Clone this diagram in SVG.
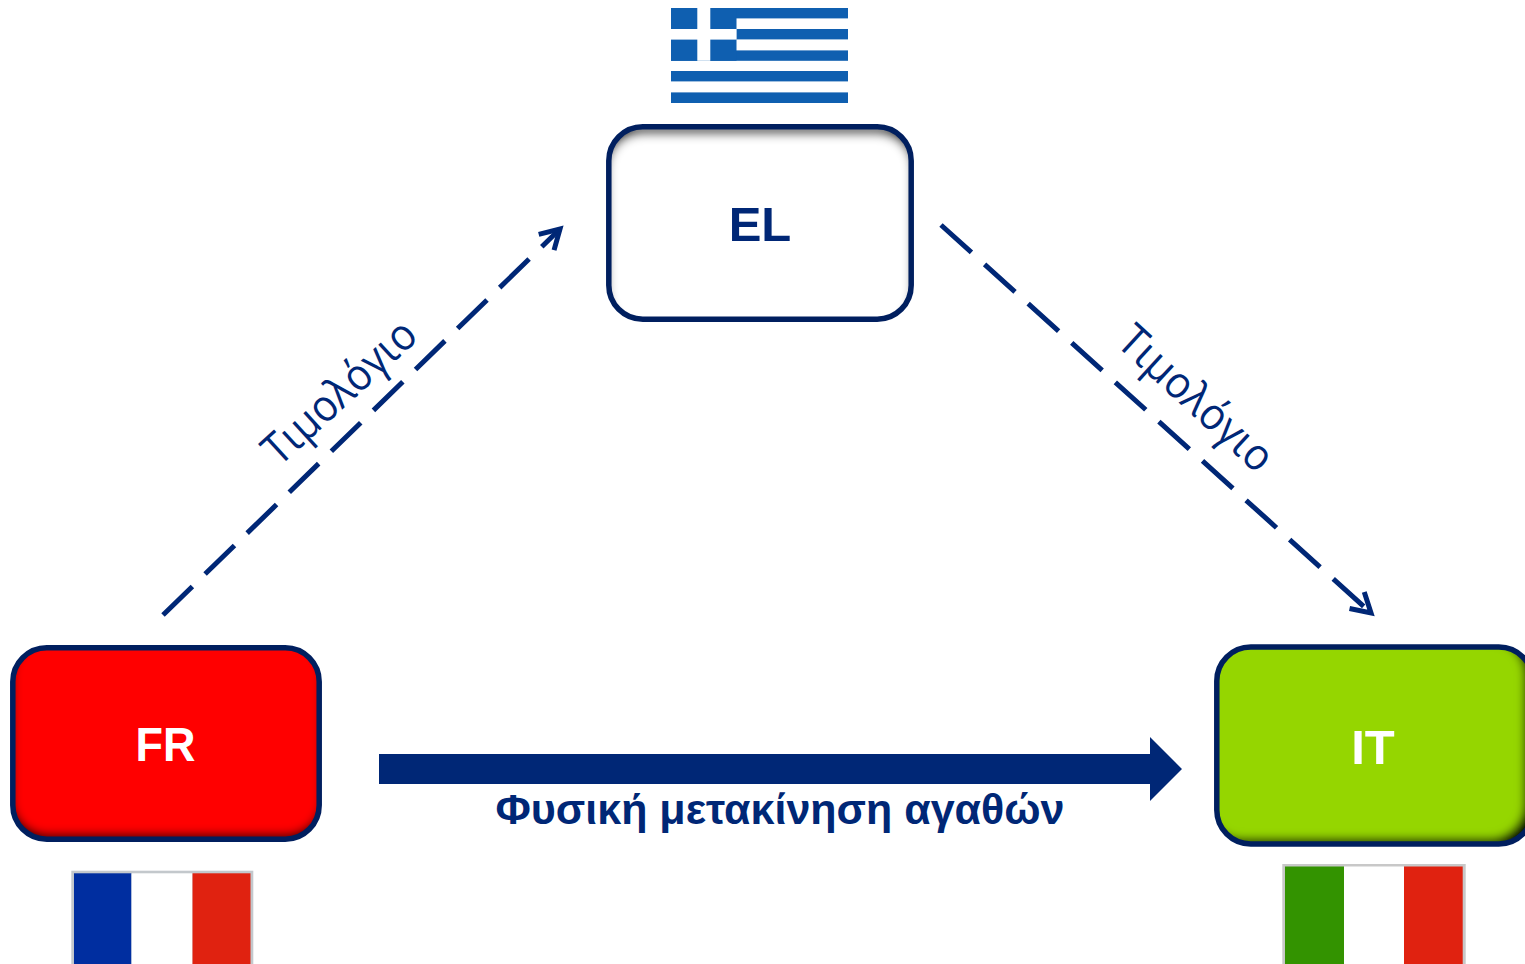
<svg xmlns="http://www.w3.org/2000/svg" width="1525" height="964" viewBox="0 0 1525 964">
<style>
.box{stroke:#001f5f;stroke-width:5.5;fill:none}
.code{font-family:"Liberation Sans",Arial,sans-serif;font-weight:700;font-size:49px;text-anchor:middle}
.lbl{font-family:"Open Sans","Noto Sans",sans-serif;font-size:44px;fill:#002776;text-anchor:middle}
.dash{stroke:#002776;stroke-width:5;fill:none;stroke-dasharray:41 17.7}
</style>
<defs>
<marker id="open" markerUnits="userSpaceOnUse" markerWidth="40" markerHeight="40" refX="22" refY="20" orient="auto">
<path d="M3,9 L22,20 L3,31" fill="none" stroke="#002776" stroke-width="5" stroke-miterlimit="10"/>
</marker>
<filter id="inTop" x="-5%" y="-5%" width="110%" height="110%">
<feFlood flood-color="#000" flood-opacity="1"/>
<feComposite in2="SourceAlpha" operator="out"/>
<feOffset dx="0" dy="8"/><feGaussianBlur stdDeviation="5"/>
<feComposite in2="SourceAlpha" operator="in" result="s"/>
<feMerge><feMergeNode in="SourceGraphic"/><feMergeNode in="s"/></feMerge>
</filter>
<filter id="inFr" x="-5%" y="-5%" width="110%" height="110%">
<feFlood flood-color="#000" flood-opacity="1"/>
<feComposite in2="SourceAlpha" operator="out"/>
<feOffset dx="1" dy="-6"/><feGaussianBlur stdDeviation="4.5"/>
<feComposite in2="SourceAlpha" operator="in" result="s"/>
<feMerge><feMergeNode in="SourceGraphic"/><feMergeNode in="s"/></feMerge>
</filter>
<filter id="inIt" x="-5%" y="-5%" width="110%" height="110%">
<feFlood flood-color="#000" flood-opacity="1"/>
<feComposite in2="SourceAlpha" operator="out"/>
<feOffset dx="-9" dy="-6"/><feGaussianBlur stdDeviation="4.5"/>
<feComposite in2="SourceAlpha" operator="in" result="s"/>
<feMerge><feMergeNode in="SourceGraphic"/><feMergeNode in="s"/></feMerge>
</filter>
</defs>
<rect width="1525" height="964" fill="#fff"/>
<g id="connectors">
<path class="dash" d="M163,615 L560,229" marker-end="url(#open)"/>
<path class="dash" d="M941,225 L1371,613" marker-end="url(#open)"/>
<path fill="#002776" d="M379,754 H1150 V737 L1182,769 L1150,801 V784 H379 Z"/>
</g>
<g id="node-el">
<rect x="608.8" y="126.8" width="302.4" height="192.4" rx="34" fill="#fff" filter="url(#inTop)"/>
<rect class="box" x="608.8" y="126.8" width="302.4" height="192.4" rx="34"/>
<text class="code" x="760" y="240.500" fill="#002776">EL</text>
</g>
<g id="node-fr">
<rect x="12.8" y="647.8" width="306.4" height="191.4" rx="34" fill="#ff0000" filter="url(#inFr)"/>
<rect class="box" x="12.8" y="647.8" width="306.4" height="191.4" rx="34"/>
<text class="code" x="165.500" y="761" fill="#fff" textLength="60" lengthAdjust="spacingAndGlyphs">FR</text>
</g>
<g id="node-it">
<rect x="1216.8" y="647" width="316" height="197" rx="34" fill="#95d600" filter="url(#inIt)"/>
<rect class="box" x="1216.8" y="647" width="316" height="197" rx="34"/>
<text class="code" x="1373" y="763.500" fill="#fff">IT</text>
</g>
<g id="flag-el">
<rect x="671" y="8" width="177" height="95" fill="#fff"/>
<g fill="#0f5fb0">
<rect x="671" y="8" width="177" height="10.4"/>
<rect x="736.5" y="29" width="111.5" height="10.4"/>
<rect x="671" y="50.4" width="177" height="10.4"/>
<rect x="671" y="71" width="177" height="10.4"/>
<rect x="671" y="92.4" width="177" height="10.6"/>
<rect x="671" y="8" width="65.5" height="52.8"/>
</g>
<rect x="697.3" y="8" width="13" height="52.8" fill="#fff"/>
<rect x="671" y="29" width="65.5" height="10.6" fill="#fff"/>
</g>
<g id="flag-fr">
<rect x="71.3" y="870.7" width="182" height="94" fill="#c3c8cc"/>
<rect x="74" y="873.3" width="57.5" height="91" fill="#002ea0"/>
<rect x="131.5" y="873.3" width="61" height="91" fill="#fff"/>
<rect x="192.5" y="873.3" width="58" height="91" fill="#e02210"/>
</g>
<g id="flag-it">
<rect x="1282.3" y="864" width="183.4" height="100" fill="#c8c8c8"/>
<rect x="1285" y="866.5" width="59" height="98" fill="#339300"/>
<rect x="1344" y="866.5" width="60" height="98" fill="#fff"/>
<rect x="1404" y="866.5" width="58.7" height="98" fill="#e02210"/>
</g>
<g id="labels">
<text class="lbl" transform="translate(349.500,403) rotate(-42.500)" textLength="191" lengthAdjust="spacingAndGlyphs">Τιμολόγιο</text>
<text class="lbl" transform="translate(1186,409.500) rotate(42.500)" textLength="193" lengthAdjust="spacingAndGlyphs">Τιμολόγιο</text>
<text x="780" y="823.500" text-anchor="middle" font-family="'Liberation Sans',Arial,sans-serif" font-weight="700" font-size="43" fill="#002776">Φυσική μετακίνηση αγαθών</text>
</g>
</svg>
